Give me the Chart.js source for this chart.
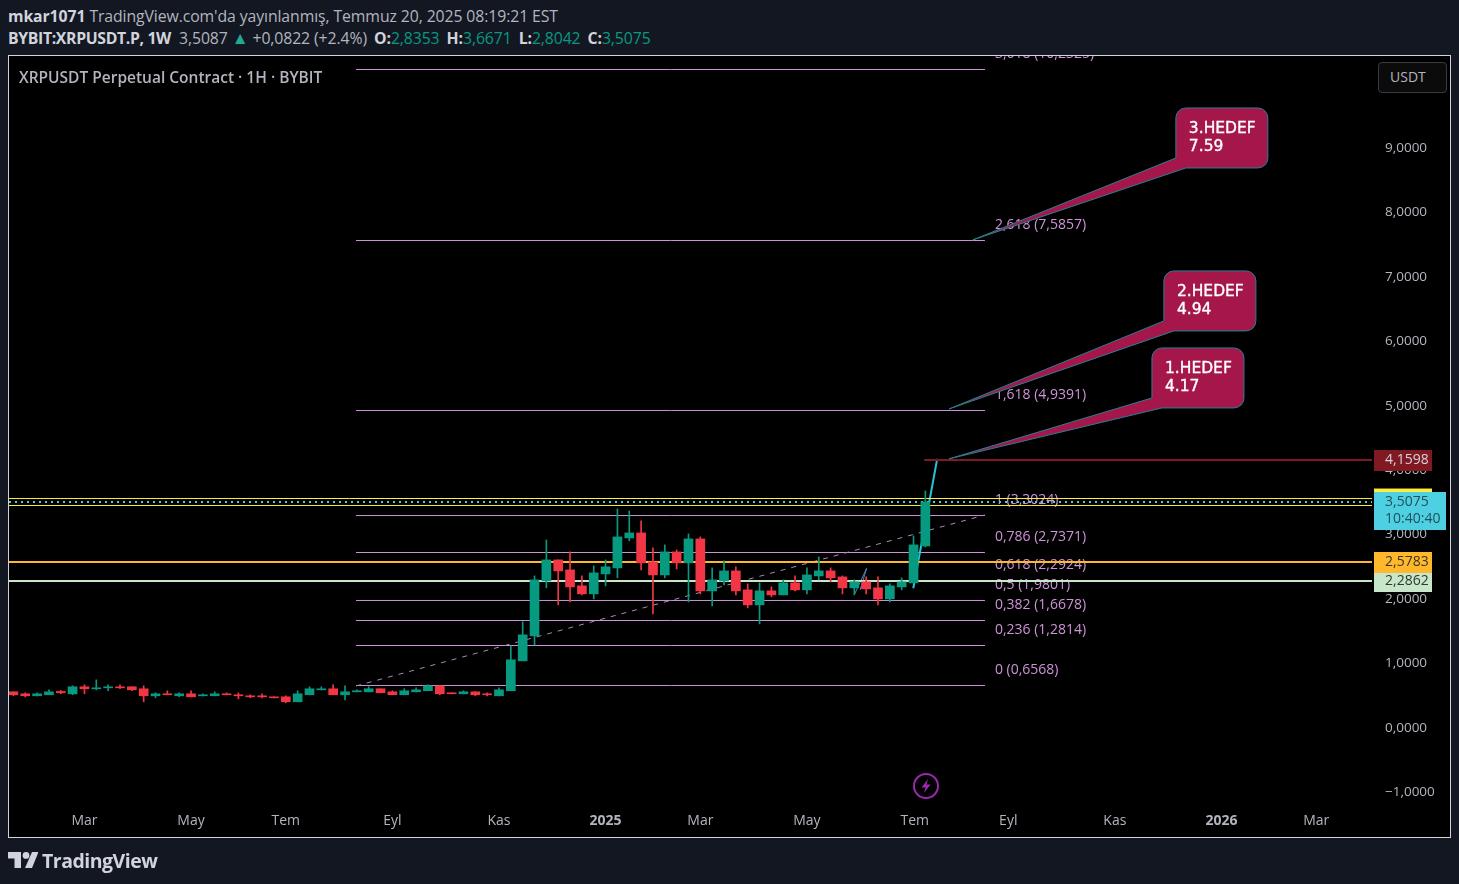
<!DOCTYPE html>
<html>
<head>
<meta charset="utf-8">
<title>XRPUSDT</title>
<script src="https://cdn.jsdelivr.net/npm/chart.js@4"></script>
<style>
  html, body { margin: 0; padding: 0; background: #131722; width: 1459px; height: 884px; overflow: hidden; }
  body { position: relative; font-family: "Open Sans", sans-serif; color: #d1d4dc; }
  #frame { position: absolute; left: 8px; top: 55px; width: 1441px; height: 781px; border: 1px solid #d1d4dc; background: #000; }
  #chart { position: absolute; left: 0; top: 0; }
  .hdr { position: absolute; left: 8px; font-size: 15.8px; white-space: nowrap; line-height: 20px; letter-spacing: -0.1px; }
  .hdr b { font-weight: 700; }
  .hdr b.sym { letter-spacing: -0.35px; }
  .hdr b.k { margin-left: 3px; }
  .hdr i { font-style: normal; color: #089981; }
  .hdr u { text-decoration: none; color: #22ab94; font-size: 17px; }
  .mute { color: #b2b5be; }
  #title { position: absolute; left: 19px; top: 66px; font-size: 15.5px; font-weight: 600; color: #b2b5be; white-space: nowrap; }
  #usdt { position: absolute; left: 1378px; top: 62px; width: 56px; height: 29px; padding-left: 11px; border: 1px solid #363a45; border-radius: 4px; font-size: 14px; line-height: 27px; color: #b2b5be; background: #0b0b0b; }
  #brand { position: absolute; left: 42px; top: 847px; font-size: 19.5px; font-weight: 700; color: #d1d4dc; letter-spacing: -0.5px; }
  svg { position: absolute; }
</style>
</head>
<body>
<div class="hdr" style="top:6px"><b>mkar1071</b> <span class="mute">TradingView.com'da yayınlanmış, Temmuz 20, 2025 08:19:21 EST</span></div>
<div class="hdr" style="top:28px"><b class="sym">BYBIT:XRPUSDT.P, 1W</b>&nbsp; <span class="mute">3,5087</span> <u>▲</u> <span class="mute">+0,0822 (+2.4%)</span> <b class="k">O:</b><i>2,8353</i> <b class="k">H:</b><i>3,6671</i> <b class="k">L:</b><i>2,8042</i> <b class="k">C:</b><i>3,5075</i></div>
<div id="frame"></div>
<canvas id="chart" width="1459" height="884"></canvas>
<div id="title">XRPUSDT Perpetual Contract · 1H · BYBIT</div>
<div id="usdt">USDT</div>
<svg style="left:913px;top:773px" width="26" height="26" viewBox="0 0 26 26"><circle cx="13" cy="13" r="12" fill="none" stroke="#9c27b0" stroke-width="2"/><path d="M15 6 L8.5 14.5 H12.5 L11 20 L17.5 11.5 H13.5 Z" fill="#9c27b0"/></svg>
<svg style="left:8px;top:852px" width="30" height="17" viewBox="0 0 30 17"><path d="M0 0 H13 V16 H6.5 V6.5 H0 Z M24 0 H30.5 L24 16 H17 Z" fill="#d1d4dc"/><circle cx="18" cy="3.4" r="3.4" fill="#d1d4dc"/></svg>
<div id="brand">TradingView</div>
<script>
// weekly candles, first bar is index 0
const opens = [0.543,0.512,0.481,0.497,0.548,0.512,0.621,0.590,0.605,0.621,0.621,0.590,0.481,0.512,0.481,0.512,0.481,0.481,0.512,0.497,0.481,0.481,0.465,0.465,0.388,0.497,0.574,0.590,0.497,0.543,0.543,0.590,0.543,0.497,0.543,0.559,0.636,0.528,0.512,0.543,0.512,0.481,0.559,1.024,1.412,2.265,2.591,2.436,2.188,2.064,2.374,2.467,2.933,3.010,2.560,2.358,2.715,2.545,2.917,2.110,2.265,2.420,2.126,1.893,2.110,2.048,2.234,2.126,2.343,2.420,2.327,2.157,2.250,2.157,1.986,2.172,2.234,2.808];
const closes = [0.497,0.481,0.512,0.543,0.528,0.621,0.590,0.605,0.621,0.605,0.574,0.481,0.512,0.497,0.512,0.465,0.497,0.512,0.497,0.481,0.465,0.465,0.450,0.388,0.512,0.590,0.590,0.497,0.543,0.559,0.590,0.528,0.497,0.559,0.574,0.636,0.512,0.512,0.543,0.497,0.497,0.574,1.040,1.427,2.281,2.591,2.420,2.172,2.064,2.389,2.483,2.948,3.010,2.545,2.358,2.715,2.545,2.917,2.110,2.281,2.420,2.110,1.893,2.110,2.048,2.234,2.126,2.358,2.420,2.312,2.157,2.250,2.141,1.986,2.188,2.250,2.824,3.491];
const highs = [0.543,0.528,0.528,0.574,0.564,0.636,0.652,0.729,0.652,0.652,0.621,0.636,0.528,0.559,0.528,0.559,0.512,0.543,0.528,0.528,0.497,0.512,0.465,0.481,0.559,0.621,0.621,0.652,0.636,0.574,0.621,0.590,0.559,0.590,0.605,0.652,0.636,0.528,0.559,0.543,0.528,0.605,1.257,1.629,2.343,2.901,2.591,2.715,2.343,2.498,2.591,3.382,3.351,3.196,2.777,2.824,2.746,2.995,2.948,2.467,2.576,2.483,2.219,2.234,2.172,2.281,2.343,2.467,2.638,2.467,2.343,2.281,2.327,2.327,2.219,2.312,2.964,3.662];
const lows = [0.481,0.465,0.481,0.497,0.512,0.497,0.512,0.574,0.559,0.590,0.559,0.388,0.450,0.497,0.465,0.465,0.481,0.481,0.497,0.434,0.450,0.450,0.450,0.372,0.388,0.497,0.574,0.497,0.419,0.543,0.543,0.528,0.497,0.497,0.543,0.559,0.497,0.512,0.512,0.481,0.481,0.481,0.559,1.024,1.272,2.157,1.893,1.940,2.048,1.986,2.188,2.312,2.886,2.436,1.753,2.312,2.451,1.939,2.064,1.877,2.203,2.048,1.846,1.598,2.017,2.048,2.110,2.064,2.281,2.250,2.064,2.048,2.064,1.893,1.939,2.126,2.234,2.793];

// fibonacci levels as they sit on the picture, and their printed labels
const fibLevels = [10.205,7.550,4.911,3.280,2.706,2.264,1.961,1.650,1.262,0.641];
const fibLabels = ['3,618 (10,2325)','2,618 (7,5857)','1,618 (4,9391)','1 (3,3024)','0,786 (2,7371)','0,618 (2,2924)','0,5 (1,9801)','0,382 (1,6678)','0,236 (1,2814)','0 (0,6568)'];
const fibFrom = 28.93;
const fibTo = 82.03;
const trendX = [28.93, 82.03];
const trendY = [0.634, 3.288];

const yellowLevels = [3.544, 3.436];
const lastPrice = 3.49;
const orangeLevel = 2.5585;
const mintLevel = 2.2635;
const redLevel = 4.142;
const redFrom = 76.9;

const arrowX = [75.98, 78];
const arrowY = [2.151, 4.16];
const zigX = [71, 72.04, 71.5, 72.04, 71.8];
const zigY = [2.05, 2.46, 2.13, 2.30, 2.15];

const calloutNames = ['1.HEDEF', '2.HEDEF', '3.HEDEF'];
const calloutPrices = ['4.17', '4.94', '7.59'];
const calloutTipX = [79, 79, 81];
const calloutTipY = [4.16, 4.935, 7.559];
const calloutBoxX = [96.13, 97.14, 98.15];
const calloutBoxY = [5.882, 7.078, 9.608];

const yTicks = [-1,0,1,2,3,4,5,6,7,8,9];
const xTickPos = [6,15,23,32,41,50,58,67,76.1,84,93,102,110];
const xTickLabels = ['Mar','May','Tem','Eyl','Kas','2025','Mar','May','Tem','Eyl','Kas','2026','Mar'];

const GREEN = '#089981', RED = '#f23645', FIB = '#ce93d8';
const FONT = '"Open Sans", sans-serif';

const candleColor = i => closes[i] >= opens[i] ? GREEN : RED;
const idx = opens.map((_, i) => i);

function hline(value, from, to, color, width, dash, order) {
  return { type: 'line', data: [{ x: from, y: value }, { x: to, y: value }], borderColor: color,
    borderWidth: width, borderDash: dash || [], pointRadius: 0, order: order || 5 };
}

const xMin = -0.371, xMax = 114.71;

const datasets = [
  { type: 'bar', data: idx.map(i => ({ x: i, y: [opens[i], closes[i]] })), barThickness: 9, grouped: false,
    backgroundColor: c => candleColor(c.dataIndex), borderWidth: 0, order: 0 },
  { type: 'bar', data: idx.map(i => ({ x: i, y: [lows[i], highs[i]] })), barThickness: 1, grouped: false,
    backgroundColor: c => candleColor(c.dataIndex), borderWidth: 0, order: 1 },
  ...fibLevels.map(v => hline(v, fibFrom, fibTo, FIB, 1)),
  { type: 'line', data: trendX.map((x, i) => ({ x, y: trendY[i] })), borderColor: '#b088b8', borderWidth: 1,
    borderDash: [5, 6], pointRadius: 0, order: 4 },
  hline(yellowLevels[0], xMin, xMax, '#ffeb3b', 1, null, 3),
  hline(yellowLevels[1], xMin, xMax, '#ffeb3b', 1, null, 3),
  hline(lastPrice, xMin, xMax, '#4dd0e1', 2, [2, 4], 3),
  hline(orangeLevel, xMin, xMax, '#ffb72b', 2, null, 3),
  hline(mintLevel, xMin, xMax, '#c8e6c9', 2, null, 3),
  hline(redLevel, redFrom, xMax, '#801922', 2, null, 3),
  { type: 'line', data: arrowX.map((x, i) => ({ x, y: arrowY[i] })), borderColor: '#26c6da', borderWidth: 2, pointRadius: 0, order: 3 },
  { type: 'line', data: zigX.map((x, i) => ({ x, y: zigY[i] })), borderColor: '#4f86c6', borderWidth: 1, pointRadius: 0, order: 3 }
];

// fib text goes above its line, clipped by the pane like in the original
const fibText = {
  id: 'fibText',
  beforeDatasetsDraw(chart) {
    const { ctx, chartArea: a, scales: { x, y } } = chart;
    ctx.save();
    ctx.beginPath();
    ctx.rect(a.left, a.top, a.width, a.height);
    ctx.clip();
    ctx.font = '14px ' + FONT;
    ctx.fillStyle = FIB;
    ctx.textBaseline = 'middle';
    fibLabels.forEach((t, i) => ctx.fillText(t, x.getPixelForValue(fibTo) + 10, y.getPixelForValue(fibLevels[i]) - 15.5));
    ctx.restore();
  }
};

const callouts = {
  id: 'callouts',
  afterDatasetsDraw(chart) {
    const { ctx, scales: { x, y } } = chart;
    const w = 92, h = 60, r = 10;
    calloutNames.forEach((name, i) => {
      const l = x.getPixelForValue(calloutBoxX[i]), t = y.getPixelForValue(calloutBoxY[i]);
      const tx = x.getPixelForValue(calloutTipX[i]), ty = y.getPixelForValue(calloutTipY[i]);
      ctx.save();
      ctx.beginPath();
      ctx.moveTo(l + r, t);
      ctx.arcTo(l + w, t, l + w, t + h, r);
      ctx.arcTo(l + w, t + h, l, t + h, r);
      ctx.lineTo(l + 10, t + h);
      ctx.lineTo(tx, ty);
      ctx.lineTo(l, t + h - 10);
      ctx.arcTo(l, t, l + w, t, r);
      ctx.closePath();
      ctx.fillStyle = '#a5174a';
      ctx.strokeStyle = '#2a7f90';
      ctx.lineWidth = 1;
      ctx.fill();
      ctx.stroke();
      ctx.fillStyle = '#fff';
      ctx.strokeStyle = '#fff';
      ctx.lineWidth = 0.35;
      ctx.font = '15.5px "DejaVu Sans", sans-serif';
      ctx.textBaseline = 'middle';
      ctx.fillText(name, l + 13, t + 21);
      ctx.strokeText(name, l + 13, t + 21);
      ctx.fillText(calloutPrices[i], l + 13, t + 39);
      ctx.strokeText(calloutPrices[i], l + 13, t + 39);
      ctx.restore();
    });
  }
};

// price tags on the right axis
const priceTags = {
  id: 'priceTags',
  afterDraw(chart) {
    const { ctx, chartArea: a, scales: { y } } = chart;
    const left = a.right + 2;
    const write = (text, yPos, fg) => {
      ctx.fillStyle = fg;
      ctx.textAlign = 'left';
      ctx.textBaseline = 'middle';
      ctx.font = '14px ' + FONT;
      ctx.fillText(text, left + 11, yPos);
    };
    const box = (top, height, width, bg) => {
      ctx.fillStyle = bg;
      ctx.fillRect(left, top, width, height);
    };
    ctx.save();
    const red = y.getPixelForValue(redLevel);
    box(red - 10, 21, 58, '#801922');
    write('4,1598', red + 0.5, '#d1d4dc');
    box(y.getPixelForValue(yellowLevels[0]) - 10, 20, 58, '#ffeb3b');
    const last = y.getPixelForValue(lastPrice);
    box(last - 10, 38, 72, '#4dd0e1');
    write('3,5075', last + 0.5, '#22505c');
    write('10:40:40', last + 17, '#22505c');
    const org = y.getPixelForValue(orangeLevel);
    box(org - 10, 21, 58, '#ffb72b');
    write('2,5783', org + 0.5, '#3a3524');
    const mint = y.getPixelForValue(mintLevel);
    box(mint - 8, 19, 58, '#c8e6c9');
    write('2,2862', mint + 0.5, '#2c3a30');
    ctx.restore();
  }
};

new Chart(document.getElementById('chart'), {
  data: { datasets },
  plugins: [fibText, callouts, priceTags],
  options: {
    responsive: false,
    animation: false,
    layout: { padding: { left: 9, top: 56, right: 9, bottom: 46 } },
    plugins: { legend: { display: false }, tooltip: { enabled: false } },
    scales: {
      x: {
        type: 'linear', min: xMin, max: xMax, offset: false,
        grid: { display: false, drawTicks: false, offset: false }, border: { display: false },
        afterFit: s => { s.height = 32; },
        afterBuildTicks: s => { s.ticks = xTickPos.map(v => ({ value: v })); },
        ticks: {
          autoSkip: false, maxRotation: 0, padding: 7, color: '#b2b5be',
          font: c => ({ family: FONT, size: 14, weight: /^20/.test(xTickLabels[c.index]) ? '700' : '400' }),
          callback: (v, i) => xTickLabels[i]
        }
      },
      y: {
        position: 'right', min: -1.23, max: 10.415,
        grid: { display: false, drawTicks: false }, border: { display: false },
        afterFit: s => { s.width = 78; },
        afterBuildTicks: s => { s.ticks = yTicks.map(v => ({ value: v })); },
        ticks: {
          autoSkip: false, color: '#b2b5be', crossAlign: 'near', padding: 13, labelOffset: 1, font: { family: FONT, size: 13.5 },
          callback: v => v.toFixed(4).replace('.', ',').replace('-', '−')
        }
      }
    }
  }
});
</script>
</body>
</html>
